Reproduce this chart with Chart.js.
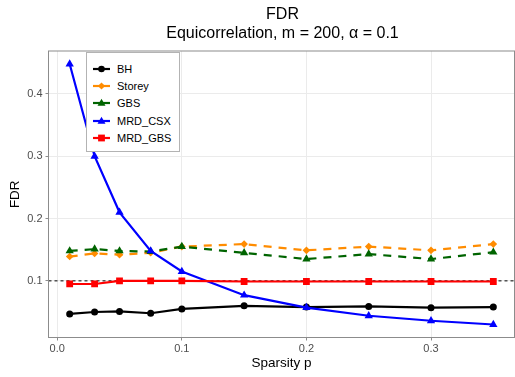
<!DOCTYPE html>
<html>
<head>
<meta charset="utf-8">
<title>FDR</title>
<script src="https://cdn.jsdelivr.net/npm/chart.js@4.4.1/dist/chart.umd.min.js"></script>
<style>
    body { margin: 0; background: #fff; }
    #wrap { position: relative; width: 515px; height: 377px; }
    #legend {
        position: absolute; left: 86px; top: 52px; width: 94px; height: 100px;
        box-sizing: border-box; background: #fff; border: 1px solid #b3b3b3;
        padding-top: 7px;
        font: 11px "Liberation Sans", Arial, sans-serif; color: #000;
    }
    #legend .row { display: flex; align-items: center; height: 17.4px; }
    #legend svg { margin-left: 6px; margin-right: 7px; }
</style>
</head>
<body>
<div id="wrap">
    <canvas id="fdrChart" width="515" height="377"></canvas>
    <div id="legend"></div>
</div>
<script>
// Date
const sparsity = [0.01, 0.03, 0.05, 0.075, 0.1, 0.15, 0.2, 0.25, 0.3, 0.35];
const fdrBH = [0.047, 0.050, 0.051, 0.048, 0.055, 0.060, 0.058, 0.059, 0.057, 0.058];
const fdrStorey = [0.139, 0.144, 0.142, 0.145, 0.155, 0.159, 0.149, 0.155, 0.149, 0.159];
const fdrGBS = [0.148, 0.151, 0.148, 0.147, 0.155, 0.145, 0.135, 0.143, 0.135, 0.146];
const fdrMrdCsx = [0.448, 0.300, 0.210, 0.148, 0.115, 0.077, 0.057, 0.044, 0.036, 0.030];
const fdrMrdGbs = [0.095, 0.095, 0.100, 0.100, 0.100, 0.099, 0.099, 0.099, 0.099, 0.099];
const alphaLevel = 0.1;
const xTicks = [0, 0.1, 0.2, 0.3];
const yTicks = [0.1, 0.2, 0.3, 0.4];

const FONT = '"Liberation Sans", Arial, sans-serif';

// limite ca in ggplot (extindere 5%)
const expand = (vals) => {
    const lo = Math.min(...vals), hi = Math.max(...vals);
    const pad = (hi - lo) * 0.05;
    return [lo - pad, hi + pad];
};
const [xMin, xMax] = expand(sparsity);
const [yMin, yMax] = expand([...fdrBH, ...fdrStorey, ...fdrGBS, ...fdrMrdCsx, ...fdrMrdGbs]);

const toPoints = (ys) => ys.map((y, i) => ({ x: sparsity[i], y }));

const series = [
    { label: 'BH', data: fdrBH, color: '#000000', style: 'circle', radius: 3.5, dash: [], order: 5 },
    { label: 'Storey', data: fdrStorey, color: '#FF8C00', style: 'rectRot', radius: 3.8, dash: [8, 7], order: 4 },
    { label: 'GBS', data: fdrGBS, color: '#006400', style: 'triangle', radius: 4.8, dash: [8, 7], order: 3 },
    { label: 'MRD_CSX', data: fdrMrdCsx, color: '#0000FF', style: 'triangle', radius: 4.8, dash: [], order: 2 },
    { label: 'MRD_GBS', data: fdrMrdGbs, color: '#FF0000', style: 'rect', radius: 4.8, dash: [], order: 1 }
];

const datasets = series.map(s => ({
    label: s.label,
    data: toPoints(s.data),
    borderColor: s.color,
    backgroundColor: s.color,
    borderWidth: 2.2,
    borderDash: s.dash,
    pointStyle: s.style,
    pointRadius: s.radius,
    pointBorderWidth: 0,
    pointBackgroundColor: s.color,
    tension: 0,
    order: s.order
}));

// linia orizontala la alpha
datasets.push({
    label: '',
    isRef: true,
    data: [{ x: xMin, y: alphaLevel }, { x: xMax, y: alphaLevel }],
    borderColor: '#000000',
    borderWidth: 1,
    borderDash: [3, 3],
    pointRadius: 0,
    order: 6
});

// chenar panou + titlu centrat pe panou
const panelPlugin = {
    id: 'panel',
    afterLayout(chart) {
        if (chart.titleBlock) {
            chart.titleBlock.left = chart.chartArea.left + 1;
            chart.titleBlock.right = chart.chartArea.right + 1;
        }
    },
    afterDraw(chart) {
        const { ctx, chartArea: a } = chart;
        ctx.save();
        ctx.strokeStyle = '#8c8c8c';
        ctx.lineWidth = 1;
        ctx.strokeRect(a.left, a.top, a.right - a.left, a.bottom - a.top);
        ctx.restore();
    }
};

const setTicks = (list) => (scale) => {
    scale.ticks = list.map(v => ({ value: v }));
};

const ctx = document.getElementById('fdrChart').getContext('2d');
const chart = new Chart(ctx, {
    type: 'line',
    data: { datasets },
    options: {
        responsive: false,
        animation: false,
        layout: { autoPadding: false, padding: { right: 0.5 } },
        plugins: {
            legend: { display: false },
            tooltip: { enabled: false },
            title: {
                display: true,
                text: ['FDR', 'Equicorrelation, m = 200, α = 0.1'],
                color: '#000',
                font: { family: FONT, size: 16, weight: 'normal', lineHeight: 1.2 },
                padding: { top: 5, bottom: 7.6 }
            }
        },
        scales: {
            x: {
                type: 'linear',
                min: xMin,
                max: xMax,
                afterBuildTicks: setTicks(xTicks),
                afterFit: (scale) => { scale.height = 39.5; },
                border: { display: false },
                grid: { color: '#ebebeb', lineWidth: 1, tickLength: 3, tickColor: '#8c8c8c' },
                ticks: {
                    color: '#4d4d4d', padding: 2, maxRotation: 0,
                    font: { family: FONT, size: 11 },
                    callback: (v) => Number(v).toFixed(1)
                },
                title: {
                    display: true, text: 'Sparsity p', color: '#000',
                    font: { family: FONT, size: 13.5 },
                    padding: { top: 0, bottom: 6 }
                }
            },
            y: {
                type: 'linear',
                min: yMin,
                max: yMax,
                afterBuildTicks: setTicks(yTicks),
                afterFit: (scale) => { scale.width = 48.5; },
                border: { display: false },
                grid: { color: '#ebebeb', lineWidth: 1, tickLength: 3, tickColor: '#8c8c8c' },
                ticks: {
                    color: '#4d4d4d', padding: 3,
                    font: { family: FONT, size: 11 },
                    callback: (v) => Number(v).toFixed(1)
                },
                title: {
                    display: true, text: 'FDR', color: '#000',
                    font: { family: FONT, size: 13.5 },
                    padding: { top: 7, bottom: 0 }
                }
            }
        }
    },
    plugins: [panelPlugin]
});

// Legenda HTML construita din dataset-uri
const markerSvg = (ds) => {
    const c = ds.borderColor;
    const cx = 8.5, cy = 6;
    let shape = '';
    if (ds.pointStyle === 'circle') {
        shape = `<circle cx="${cx}" cy="${cy}" r="3.3" fill="${c}"/>`;
    } else if (ds.pointStyle === 'rectRot') {
        shape = `<polygon points="${cx},${cy - 3.6} ${cx + 3.6},${cy} ${cx},${cy + 3.6} ${cx - 3.6},${cy}" fill="${c}"/>`;
    } else if (ds.pointStyle === 'triangle') {
        shape = `<polygon points="${cx},${cy - 4.2} ${cx + 4},${cy + 2.8} ${cx - 4},${cy + 2.8}" fill="${c}"/>`;
    } else {
        shape = `<rect x="${cx - 3.4}" y="${cy - 3.4}" width="6.8" height="6.8" fill="${c}"/>`;
    }
    return `<svg width="17" height="12" viewBox="0 0 17 12">` +
        `<line x1="0" y1="${cy}" x2="17" y2="${cy}" stroke="${c}" stroke-width="2.2"/>` +
        shape + `</svg>`;
};

const legendEl = document.getElementById('legend');
chart.data.datasets.filter(ds => !ds.isRef).forEach(ds => {
    const row = document.createElement('div');
    row.className = 'row';
    row.innerHTML = markerSvg(ds) + `<span>${ds.label}</span>`;
    legendEl.appendChild(row);
});
</script>
</body>
</html>
